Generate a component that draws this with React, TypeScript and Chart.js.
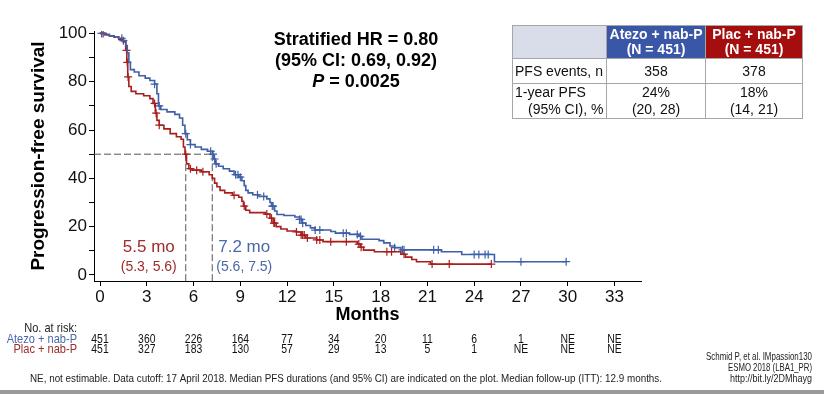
import React, { useEffect, useRef } from 'react';
import { Chart, registerables } from 'chart.js';

Chart.register(...registerables);

const FONT = '"Liberation Sans", Arial, Helvetica, sans-serif';
const BLUE = '#3F5FA6';
const RED = '#A81E1E';
const BLUE_TEXT = '#4A68AA';
const RED_TEXT = '#9E2A2A';

// Kaplan-Meier step points (month of drop, survival after drop), Atezo + nab-P
const atezoMonths = [0, 0.3, 0.6, 0.9, 1.2, 1.5, 1.65, 1.75, 1.85, 1.95, 2.2, 2.5, 2.9, 3.2, 3.5, 3.65, 3.75, 3.9, 4.3, 4.8, 5.1, 5.3, 5.45, 5.6, 5.8, 6.1, 6.5, 6.9, 7.2, 7.3, 7.4, 7.6, 7.9, 8.3, 8.6, 8.9, 9.1, 9.25, 9.35, 9.5, 9.8, 10.2, 10.7, 10.9, 11.0, 11.2, 11.35, 11.8, 12.5, 12.8, 12.95, 13.2, 13.5, 13.8, 14.8, 15.1, 16.0, 16.6, 16.8, 17.9, 18.2, 18.6, 18.9, 19.3, 21.9, 23.2, 25.3, 29.9];
const atezoSurvival = [100, 99.5, 99, 98.5, 98, 97, 95, 92, 88, 85, 84, 82.5, 81.5, 80.5, 79, 75, 70, 68.5, 67.5, 66.5, 65, 62, 58.5, 56, 54, 53, 52, 51.2, 50, 48, 46, 45, 44, 43, 41.5, 40.5, 39, 37, 35, 34, 33.2, 32.5, 31.5, 30, 28.5, 26.5, 25, 24.6, 24, 23, 21.5, 20.5, 19.5, 18.6, 18, 17.3, 16.8, 16, 14.8, 14.2, 13.3, 12, 11.3, 10.4, 9.6, 8.5, 5.5, 5.5];

// Plac + nab-P
const placMonths = [0, 0.3, 0.6, 0.9, 1.2, 1.5, 1.65, 1.72, 1.78, 1.85, 2.0, 2.3, 2.8, 3.2, 3.4, 3.55, 3.65, 3.8, 4.1, 4.5, 4.9, 5.2, 5.35, 5.45, 5.55, 5.7, 5.9, 6.5, 7.0, 7.2, 7.35, 7.5, 7.7, 8.0, 8.5, 8.9, 9.1, 9.2, 9.35, 9.6, 10.6, 10.9, 11.1, 11.3, 11.6, 12.0, 12.6, 12.9, 13.2, 13.9, 14.3, 16.5, 16.7, 16.9, 17.6, 19.3, 19.6, 20.0, 20.3, 21.2, 25.1];
const placSurvival = [100, 99.5, 99, 98.5, 97.5, 96.5, 93, 88, 82, 78, 76, 75, 74.2, 73, 71, 67, 64, 62, 60.5, 58.5, 57.2, 56.2, 53, 50, 46, 44, 43.4, 42.7, 41.5, 40, 38, 36.5, 35, 34, 33, 32.2, 30.5, 28.5, 26.8, 25.8, 25.2, 23.5, 21.5, 20, 19, 18.2, 17.8, 16.5, 15.3, 14.5, 13.8, 12.8, 11.5, 10.3, 9.6, 8.6, 7.4, 6.4, 5.5, 4.5, 4.5];

// Censoring times (months)
const atezoCensorMonths = [0.1, 1.4, 1.5, 3.5, 3.8, 5.5, 5.8, 7.1, 7.25, 7.35, 7.45, 8.7, 8.85, 9.0, 10.1, 10.5, 11.05, 11.1, 12.8, 12.9, 13.0, 13.8, 14.1, 15.6, 15.8, 16.5, 16.7, 18.9, 19.4, 19.5, 21.4, 21.7, 24.0, 24.3, 24.7, 24.9, 27.0, 29.9];
const placCensorMonths = [0.2, 1.7, 1.75, 1.8, 3.5, 3.6, 3.8, 5.5, 5.8, 6.2, 6.6, 8.6, 9.25, 10.7, 11.0, 11.15, 11.2, 12.6, 12.9, 13.0, 13.1, 13.3, 13.9, 14.1, 14.8, 15.8, 16.6, 16.75, 18.4, 18.7, 19.5, 21.3, 22.4, 25.1];

// axes
const monthTicks = [0, 3, 6, 9, 12, 15, 18, 21, 24, 27, 30, 33];
const survivalTicks = [0, 10, 20, 30, 40, 50, 60, 70, 80, 90, 100];
const X_MIN = -0.385;
const X_MAX = 34.7;
const Y_MIN = -2.5;
const Y_MAX = 101;

// medians
const medianLevel = 50;
const medianAtezo = 7.2;
const medianPlac = 5.5;
const medianAtezoCI = '(5.6, 7.5)';
const medianPlacCI = '(5.3, 5.6)';

// number at risk
const riskMonths = [0, 3, 6, 9, 12, 15, 18, 21, 24, 27, 30, 33];
const atezoAtRisk = ['451', '360', '226', '164', '77', '34', '20', '11', '6', '1', 'NE', 'NE'];
const placAtRisk = ['451', '327', '183', '130', '57', '29', '13', '5', '1', 'NE', 'NE', 'NE'];

// summary table
const armNames = ['Atezo + nab-P', 'Plac + nab-P'];
const armN = ['(N = 451)', '(N = 451)'];
const pfsEvents = ['358', '378'];
const pfs1y = ['24%', '18%'];
const pfs1yCI = ['(20, 28)', '(14, 21)'];

function survivalAt(months: number[], surv: number[], t: number) {
  let s = surv[0];
  for (let i = 0; i < months.length; i++) {
    if (months[i] <= t) s = surv[i];
    else break;
  }
  return s;
}

function drawScaled(ctx: CanvasRenderingContext2D, text: string, x: number, y: number, align: CanvasTextAlign, sx: number) {
  ctx.save();
  ctx.translate(x, y);
  ctx.scale(sx, 1);
  ctx.textAlign = align;
  ctx.fillText(text, 0, 0);
  ctx.restore();
}

const annotPlugin = {
  id: 'annot',
  afterDraw(chart: any) {
    const { ctx } = chart;
    const xs = chart.scales.x;
    const ys = chart.scales.y;
    ctx.save();
    ctx.textBaseline = 'middle';

    // median labels
    const pxPlac = xs.getPixelForValue(medianPlac);
    const pxAtezo = xs.getPixelForValue(medianAtezo);
    ctx.fillStyle = RED_TEXT;
    ctx.textAlign = 'right';
    ctx.font = `17px ${FONT}`;
    ctx.fillText(`${medianPlac} mo`, pxPlac - 11, ys.getPixelForValue(11.5));
    ctx.font = `14px ${FONT}`;
    ctx.fillText(medianPlacCI, pxPlac - 9, ys.getPixelForValue(3.3));
    ctx.fillStyle = BLUE_TEXT;
    ctx.textAlign = 'left';
    ctx.font = `17px ${FONT}`;
    ctx.fillText(`${medianAtezo} mo`, pxAtezo + 6, ys.getPixelForValue(11.5));
    ctx.font = `14px ${FONT}`;
    ctx.fillText(medianAtezoCI, pxAtezo + 4, ys.getPixelForValue(3.3));

    // number at risk
    ctx.font = `13px ${FONT}`;
    ctx.fillStyle = '#222';
    drawScaled(ctx, 'No. at risk:', 77, 328, 'right', 0.85);
    ctx.fillStyle = BLUE_TEXT;
    drawScaled(ctx, armNames[0], 77, 339, 'right', 0.85);
    ctx.fillStyle = RED_TEXT;
    drawScaled(ctx, armNames[1], 77, 349, 'right', 0.85);
    ctx.fillStyle = '#111';
    ctx.font = `13px ${FONT}`;
    riskMonths.forEach((m, i) => {
      const cx = xs.getPixelForValue(m);
      drawScaled(ctx, atezoAtRisk[i], cx, 339, 'center', 0.8);
      drawScaled(ctx, placAtRisk[i], cx, 349.5, 'center', 0.8);
    });

    // footnotes
    ctx.font = `11px ${FONT}`;
    ctx.fillStyle = '#222';
    ctx.textAlign = 'left';
    ctx.fillText('NE, not estimable. Data cutoff: 17 April 2018. Median PFS durations (and 95% CI) are indicated on the plot. Median follow-up (ITT): 12.9 months.', 30, 379, 632);
    ctx.textAlign = 'right';
    ctx.fillText('Schmid P, et al. IMpassion130', 812, 357, 106);
    ctx.fillText('ESMO 2018 (LBA1_PR)', 812, 368, 84);
    ctx.fillText('http://bit.ly/2DMhayg', 812, 379, 82);
    ctx.restore();
  },
};

export default function App() {
  const canvasRef = useRef<HTMLCanvasElement | null>(null);

  useEffect(() => {
    const canvas = canvasRef.current;
    if (!canvas) return;
    const atezoLine = atezoMonths.map((m, i) => ({ x: m, y: atezoSurvival[i] }));
    const placLine = placMonths.map((m, i) => ({ x: m, y: placSurvival[i] }));
    const atezoCens = atezoCensorMonths.map((m) => ({ x: m, y: survivalAt(atezoMonths, atezoSurvival, m) }));
    const placCens = placCensorMonths.map((m) => ({ x: m, y: survivalAt(placMonths, placSurvival, m) }));
    const dash = { borderColor: '#555', borderWidth: 1, borderDash: [7, 3], pointRadius: 0, fill: false, showLine: true };

    const chart = new Chart(canvas, {
      type: 'line',
      data: {
        datasets: [
          { data: atezoLine, borderColor: BLUE, borderWidth: 1.6, pointRadius: 0, stepped: 'before', fill: false },
          { data: placLine, borderColor: RED, borderWidth: 1.6, pointRadius: 0, stepped: 'before', fill: false },
          { data: atezoCens, showLine: false, pointStyle: 'cross', pointRadius: 4, borderColor: BLUE, borderWidth: 1.2, pointBorderColor: BLUE },
          { data: placCens, showLine: false, pointStyle: 'cross', pointRadius: 4, borderColor: RED, borderWidth: 1.2, pointBorderColor: RED },
          { ...dash, data: [{ x: X_MIN, y: medianLevel }, { x: medianAtezo, y: medianLevel }] },
          { ...dash, data: [{ x: medianPlac, y: medianLevel }, { x: medianPlac, y: Y_MIN }] },
          { ...dash, data: [{ x: medianAtezo, y: medianLevel }, { x: medianAtezo, y: Y_MIN }] },
        ] as any,
      },
      options: {
        responsive: false,
        animation: false,
        devicePixelRatio: 1,
        layout: { padding: { left: 0, top: 31, right: 183, bottom: 68 } },
        plugins: { legend: { display: false }, tooltip: { enabled: false } },
        elements: { line: { tension: 0 } },
        scales: {
          x: {
            type: 'linear',
            min: X_MIN,
            max: X_MAX,
            afterBuildTicks: (s: any) => {
              s.ticks = monthTicks.map((v) => ({ value: v }));
            },
            afterFit: (s: any) => {
              s.height = 45;
            },
            ticks: {
              font: { family: FONT, size: 17 },
              color: '#111',
              padding: 1,
              maxRotation: 0,
              autoSkip: false,
              callback: (v: any) => String(v),
            },
            grid: { display: true, drawOnChartArea: false, drawTicks: true, tickLength: 5, tickColor: '#000', color: '#000' },
            border: { display: true, color: '#000', width: 1 },
            title: { display: true, text: 'Months', font: { family: FONT, size: 18, weight: 'bold' }, color: '#000', padding: { top: 0, bottom: 0 } },
          },
          y: {
            type: 'linear',
            min: Y_MIN,
            max: Y_MAX,
            afterBuildTicks: (s: any) => {
              s.ticks = survivalTicks.map((v) => ({ value: v }));
            },
            afterFit: (s: any) => {
              s.width = 94;
            },
            ticks: {
              font: { family: FONT, size: 17 },
              color: '#111',
              padding: 2,
              autoSkip: false,
              callback: (v: any) => (v % 20 === 0 ? String(v) : ''),
            },
            grid: { display: true, drawOnChartArea: false, drawTicks: true, tickLength: 5, tickColor: '#000', color: '#000' },
            border: { display: true, color: '#000', width: 1 },
            title: { display: true, text: 'Progression-free survival', font: { family: FONT, size: 19, weight: 'bold' }, color: '#000', padding: { top: 27, bottom: 0 } },
          },
        },
      } as any,
      plugins: [annotPlugin],
    });
    return () => chart.destroy();
  }, []);

  const cellBorder = '1px solid #A6A6A6';
  const bodyCell: React.CSSProperties = { border: cellBorder, textAlign: 'center', padding: 0, color: '#111' };

  return (
    <div style={{ position: 'absolute', left: 0, top: 0, width: 824, height: 394, background: '#fff', overflow: 'hidden', fontFamily: FONT }}>
      <canvas ref={canvasRef} width={824} height={394} style={{ position: 'absolute', left: 0, top: 0, width: 824, height: 394 }} />
      <div style={{ position: 'absolute', left: 236, top: 29, width: 240, textAlign: 'center', fontWeight: 'bold', fontSize: 18, lineHeight: '21px', color: '#000' }}>
        <div>Stratified HR = 0.80</div>
        <div>(95% CI: 0.69, 0.92)</div>
        <div><i>P</i> = 0.0025</div>
      </div>
      <table style={{ position: 'absolute', left: 512, top: 25, width: 290, borderCollapse: 'collapse', tableLayout: 'fixed', fontSize: 14, fontFamily: FONT }}>
        <colgroup>
          <col style={{ width: 94 }} />
          <col style={{ width: 99 }} />
          <col style={{ width: 97 }} />
        </colgroup>
        <tbody>
          <tr style={{ height: 33 }}>
            <td style={{ background: '#D9DDEA', border: cellBorder, padding: 0 }}></td>
            <td style={{ background: '#3A56A6', color: '#fff', fontWeight: 'bold', textAlign: 'center', lineHeight: '15px', fontSize: 14, border: cellBorder, padding: 0 }}>
              {armNames[0]}<br />{armN[0]}
            </td>
            <td style={{ background: '#A50E0E', color: '#fff', fontWeight: 'bold', textAlign: 'center', lineHeight: '15px', fontSize: 14, border: cellBorder, padding: 0 }}>
              {armNames[1]}<br />{armN[1]}
            </td>
          </tr>
          <tr style={{ height: 25 }}>
            <td style={{ ...bodyCell, textAlign: 'left', paddingLeft: 2, whiteSpace: 'nowrap' }}>PFS events, n</td>
            <td style={bodyCell}>{pfsEvents[0]}</td>
            <td style={bodyCell}>{pfsEvents[1]}</td>
          </tr>
          <tr style={{ height: 30 }}>
            <td style={{ ...bodyCell, textAlign: 'left', paddingLeft: 2, lineHeight: '17px', whiteSpace: 'nowrap' }}>
              1-year PFS<br /><span style={{ paddingLeft: 13 }}>(95% CI), %</span>
            </td>
            <td style={{ ...bodyCell, lineHeight: '17px' }}>{pfs1y[0]}<br />{pfs1yCI[0]}</td>
            <td style={{ ...bodyCell, lineHeight: '17px' }}>{pfs1y[1]}<br />{pfs1yCI[1]}</td>
          </tr>
        </tbody>
      </table>
      <div style={{ position: 'absolute', left: 0, top: 390, width: 824, height: 4, background: '#9A9A9A' }} />
    </div>
  );
}
